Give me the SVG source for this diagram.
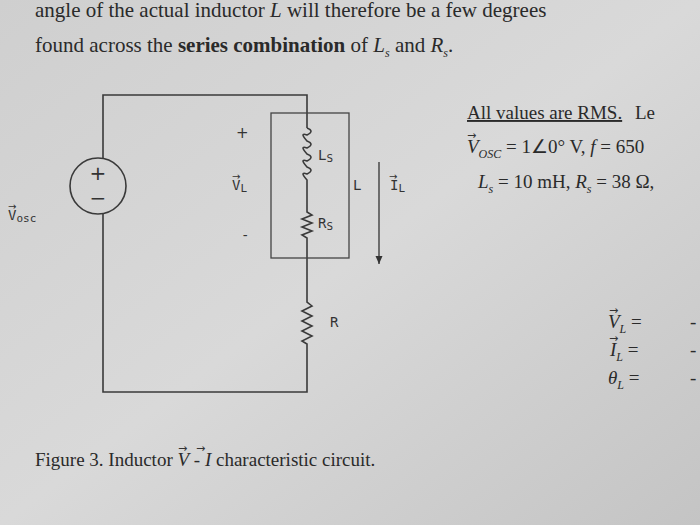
<svg xmlns="http://www.w3.org/2000/svg" width="700" height="525" viewBox="0 0 700 525">
<defs>
<linearGradient id="bg" x1="0" y1="0" x2="1" y2="1"><stop offset="0" stop-color="#cfcfcf"/><stop offset="0.5" stop-color="#d9d9d9"/><stop offset="1" stop-color="#c4c4c4"/></linearGradient>
<marker id="ah" markerWidth="9" markerHeight="8" refX="8" refY="4" orient="auto" markerUnits="userSpaceOnUse"><path d="M0,0.5 L8,4 L0,7.5 Z" fill="#333"/></marker>
</defs>
<style>
.w{fill:none;stroke:#3a3a3a;stroke-width:1.6}
.t{font-family:"Liberation Serif",serif;fill:#2a2a2a}
.s{font-family:"DejaVu Sans Mono","Liberation Mono",monospace;fill:#333;font-size:14px}
.ar{font-family:"DejaVu Sans",sans-serif;fill:#333}
</style>
<rect width="700" height="525" fill="url(#bg)"/>
<text class="t" x="35" y="17" font-size="21">angle of the actual inductor <tspan font-style="italic">L</tspan> will therefore be a few degrees</text>
<text class="t" x="35" y="52" font-size="21">found across the <tspan font-weight="bold">series combination</tspan> of <tspan font-style="italic">L</tspan><tspan font-size="12" dy="5" font-style="italic">s</tspan><tspan dy="-5"> and </tspan><tspan font-style="italic">R</tspan><tspan font-size="12" dy="5" font-style="italic">s</tspan><tspan dy="-5">.</tspan></text>
<g id="wires">
<path class="w" d="M103,158 V95 H307 V128"/>
<path class="w" d="M103,214 V392 H307 V350"/>
<path class="w" d="M307,188 V205"/>
<path class="w" d="M307,255 V295"/>
<path class="w" d="M307,128 q8,3 0,7 q-8,-3 0,6 q8,3 0,7 q-8,-3 0,6 q8,3 0,7 q-8,-3 0,6 q8,3 0,7 q-8,-3 0,6 V188"/>
<path class="w" d="M307,205 V212 l5,3 -10,4 10,4 -10,4 10,4 -10,4 5,3 V255"/>
<path class="w" d="M307,295 V302 l5,4 -10,5 10,5 -10,5 10,5 -10,5 10,5 -10,5 5,3 V350"/>
<rect x="271" y="113" width="78" height="145" fill="none" stroke="#444" stroke-width="1.3"/>
<line x1="379" y1="162" x2="379" y2="264" stroke="#333" stroke-width="1.3" marker-end="url(#ah)"/>
</g>
<g id="source">
<circle cx="98" cy="186" r="28" fill="none" stroke="#3a3a3a" stroke-width="1.6"/>
<text class="ar" x="98" y="180" text-anchor="middle" font-size="20">+</text>
<text class="ar" x="98" y="205" text-anchor="middle" font-size="20">−</text>
</g>
<g id="labels">
<text class="s" x="8" y="220">V<tspan font-size="11" dy="2">osc</tspan></text>
<text class="ar" x="8" y="210" font-size="10">→</text>
<text class="ar" x="236" y="138" font-size="15">+</text>
<text class="s" x="232" y="190">V<tspan font-size="11" dy="2">L</tspan></text>
<text class="ar" x="232" y="180" font-size="10">→</text>
<text class="s" x="241" y="240">-</text>
<text class="s" x="318" y="160">L<tspan font-size="11" dy="2">S</tspan></text>
<text class="s" x="318" y="228">R<tspan font-size="11" dy="2">S</tspan></text>
<text class="s" x="353" y="190">L</text>
<text class="s" x="390" y="190">I<tspan font-size="11" dy="2">L</tspan></text>
<text class="ar" x="389" y="180" font-size="10">→</text>
<text class="s" x="330" y="327">R</text>
</g>
<text class="t" x="467" y="119" font-size="19" text-decoration="underline">All values are RMS.</text>
<text class="t" x="635" y="119" font-size="19">Le</text>
<text class="t" x="467" y="153" font-size="19"><tspan font-style="italic">V</tspan><tspan font-size="12" dy="5" font-style="italic">OSC</tspan><tspan dy="-5"> = 1∠0° V, </tspan><tspan font-style="italic">f</tspan> = 650</text>
<text class="ar" x="467" y="139" font-size="11">→</text>
<text class="t" x="478" y="188" font-size="19"><tspan font-style="italic">L</tspan><tspan font-size="12" dy="5" font-style="italic">s</tspan><tspan dy="-5"> = 10 mH, </tspan><tspan font-style="italic">R</tspan><tspan font-size="12" dy="5" font-style="italic">s</tspan><tspan dy="-5"> = 38 Ω,</tspan></text>
<text class="t" x="608" y="328" font-size="19"><tspan font-style="italic">V</tspan><tspan font-size="12" dy="5" font-style="italic">L</tspan><tspan dy="-5"> =</tspan></text>
<text class="ar" x="609" y="314" font-size="11">→</text>
<text class="t" x="610" y="356" font-size="19"><tspan font-style="italic">I</tspan><tspan font-size="12" dy="5" font-style="italic">L</tspan><tspan dy="-5"> =</tspan></text>
<text class="ar" x="609" y="342" font-size="11">→</text>
<text class="t" x="608" y="384" font-size="19"><tspan font-style="italic">θ</tspan><tspan font-size="12" dy="5" font-style="italic">L</tspan><tspan dy="-5"> =</tspan></text>
<text class="t" x="690" y="328" font-size="19">-</text>
<text class="t" x="690" y="356" font-size="19">-</text>
<text class="t" x="690" y="384" font-size="19">-</text>
<text class="t" x="35" y="466" font-size="19">Figure 3. Inductor <tspan font-style="italic">V</tspan> - <tspan font-style="italic">I</tspan> characteristic circuit.</text>
<text class="ar" x="178" y="452" font-size="11">→</text>
<text class="ar" x="196" y="452" font-size="11">→</text>
</svg>
